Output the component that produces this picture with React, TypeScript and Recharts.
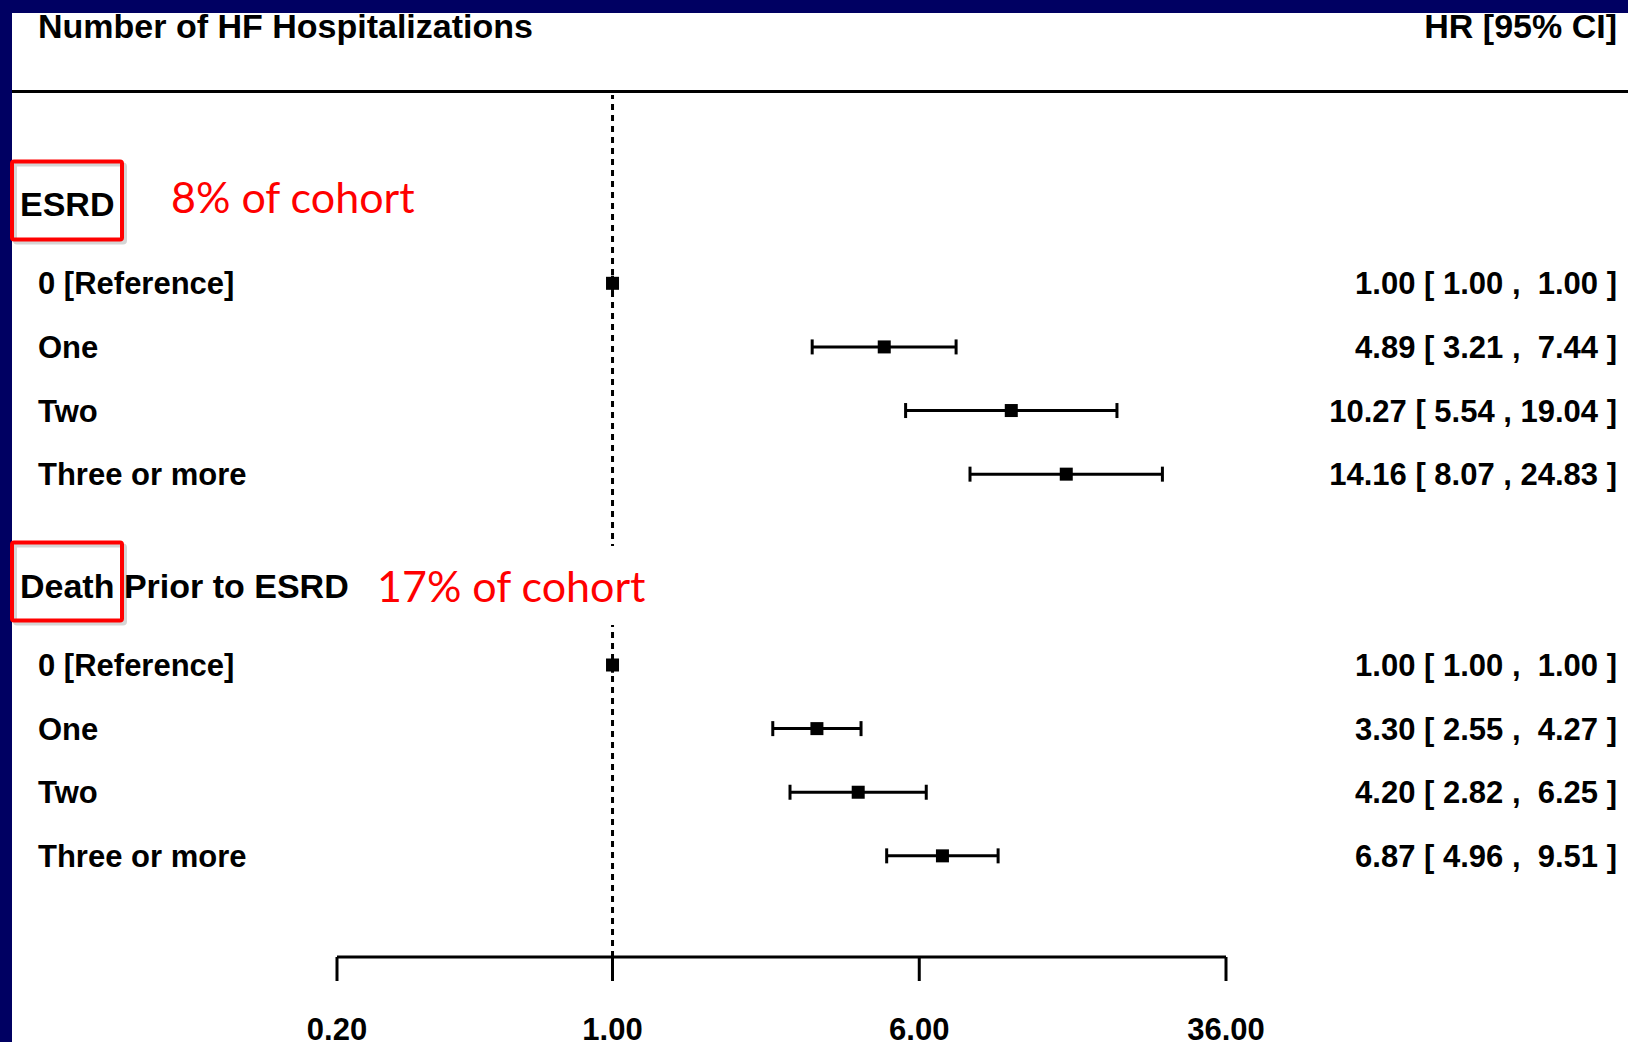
import React from "react";
import {
  ScatterChart,
  Scatter,
  XAxis,
  YAxis,
  ErrorBar,
  ReferenceLine,
} from "recharts";

// groups (section headers) and their slot on the row axis
const GROUP_NAMES = ["ESRD", "Death Prior to ESRD"];
const GROUP_NOTES = ["8% of cohort", "17% of cohort"];
const GROUP_SLOTS = [-1.24, 4.75];

// rows
const ROW_LABELS = [
  "0 [Reference]",
  "One",
  "Two",
  "Three or more",
  "0 [Reference]",
  "One",
  "Two",
  "Three or more",
];
const ROW_SLOTS = [0, 1, 2, 3, 6, 7, 8, 9];
const HR = [1.0, 4.89, 10.27, 14.16, 1.0, 3.3, 4.2, 6.87];
const CI_LOW = [1.0, 3.21, 5.54, 8.07, 1.0, 2.55, 2.82, 4.96];
const CI_HIGH = [1.0, 7.44, 19.04, 24.83, 1.0, 4.27, 6.25, 9.51];

const X_TICKS = [0.2, 1, 6, 36];
const X_DOMAIN = [0.2, 36];
const Y_DOMAIN = [-2.96, 10.59];

const W = 1628;
const H = 1042;
const FONT = '"Liberation Sans", Arial, Helvetica, sans-serif';
const NOTE_FONT = 'Lato, "Open Sans", sans-serif';
const NAVY = "#000062";
const RED = "#ff0000";

// where the red notes sit (layout only)
const NOTE_POS = [
  { left: 165, top: 157 },
  { left: 371, top: 546 },
];

const rows = HR.map((hr, i) => ({
  label: ROW_LABELS[i],
  slot: ROW_SLOTS[i],
  hr,
  lo: CI_LOW[i],
  hi: CI_HIGH[i],
  err: [hr - CI_LOW[i], CI_HIGH[i] - hr],
}));

const fmt = (v: number) => v.toFixed(2);
const ciText = (r: any) =>
  `${fmt(r.hr)} [${fmt(r.lo).padStart(5, " ")} , ${fmt(r.hi).padStart(5, " ")} ]`;

const yTicks = [...GROUP_SLOTS, ...ROW_SLOTS].sort((a, b) => a - b);

function YTick(props: any) {
  const { y, payload } = props;
  const v = payload.value;
  const gi = GROUP_SLOTS.indexOf(v);
  if (gi >= 0) {
    return (
      <g>
        <rect x={15} y={y - 40} width={110} height={78} fill="none"
          stroke="#888" strokeOpacity={0.35} strokeWidth={4} rx={2} />
        <rect x={12} y={y - 43} width={110} height={78} fill="none"
          stroke={RED} strokeWidth={4} rx={2} />
        <text x={20} y={y} dy="0.355em" fontFamily={FONT} fontWeight={700}
          fontSize={34} fill="#000">
          {GROUP_NAMES[gi]}
        </text>
      </g>
    );
  }
  const r = rows.find((d) => d.slot === v);
  if (!r) return null;
  return (
    <g fontFamily={FONT} fontWeight={700} fontSize={31} fill="#000">
      <text x={38} y={y} dy="0.355em">{r.label}</text>
      <text x={1617} y={y} dy="0.355em" textAnchor="end" style={{ whiteSpace: "pre" }}>
        {ciText(r)}
      </text>
    </g>
  );
}

function XTick(props: any) {
  const { x, y, payload } = props;
  return (
    <text x={x} y={y + 48} dy="0.355em" textAnchor="middle" fontFamily={FONT}
      fontWeight={700} fontSize={31} fill="#000">
      {fmt(payload.value)}
    </text>
  );
}

function Square(props: any) {
  const { cx, cy } = props;
  return <rect x={cx - 6.5} y={cy - 6.5} width={13} height={13} fill="#000" />;
}

export default function App() {
  return (
    <div style={{ position: "absolute", left: 0, top: 0, width: W, height: H, background: NAVY, overflow: "hidden" }}>
      <div style={{ position: "absolute", left: 12, top: 13, right: 0, bottom: 0, background: "#fff" }} />

      <div style={{ position: "absolute", left: 0, top: 0 }}>
        <ScatterChart width={W} height={H} margin={{ top: 95, right: 402, bottom: 0, left: 0 }}>
          <XAxis
            dataKey="hr"
            type="number"
            scale="log"
            domain={X_DOMAIN}
            allowDataOverflow
            ticks={X_TICKS}
            interval={0}
            height={85}
            tickSize={24}
            tickMargin={0}
            axisLine={{ stroke: "#000", strokeWidth: 3 }}
            tickLine={{ stroke: "#000", strokeWidth: 3 }}
            tick={(p: any) => <XTick {...p} />}
          />
          <YAxis
            dataKey="slot"
            type="number"
            domain={Y_DOMAIN}
            allowDataOverflow
            reversed
            ticks={yTicks}
            interval={0}
            width={337}
            axisLine={false}
            tickLine={false}
            tick={(p: any) => <YTick {...p} />}
          />
          <ReferenceLine x={1} stroke="#000" strokeWidth={3} strokeDasharray="6 5" />
          <Scatter data={rows} fill="#000" shape={Square} isAnimationActive={false}>
            <ErrorBar dataKey="err" direction="x" width={7.5} strokeWidth={3} stroke="#000" />
          </Scatter>
        </ScatterChart>
      </div>

      {/* header row */}
      <div style={{ position: "absolute", left: 38, top: 9, font: `700 34px/34px ${FONT}`, color: "#000", whiteSpace: "nowrap" }}>
        Number of HF Hospitalizations
      </div>
      <div style={{ position: "absolute", right: 11, top: 9, font: `700 34px/34px ${FONT}`, color: "#000", whiteSpace: "nowrap" }}>
        HR [95% CI]
      </div>
      <div style={{ position: "absolute", left: 12, right: 0, top: 90, height: 3, background: "#000" }} />

      {/* red notes */}
      {GROUP_NOTES.map((note, i) => (
        <div
          key={note}
          style={{
            position: "absolute",
            left: NOTE_POS[i].left,
            top: NOTE_POS[i].top,
            height: 79,
            padding: "0 6px",
            background: "#fff",
            font: `400 43px/79px ${NOTE_FONT}`,
            color: RED,
            whiteSpace: "nowrap",
          }}
        >
          {note}
        </div>
      ))}
    </div>
  );
}
